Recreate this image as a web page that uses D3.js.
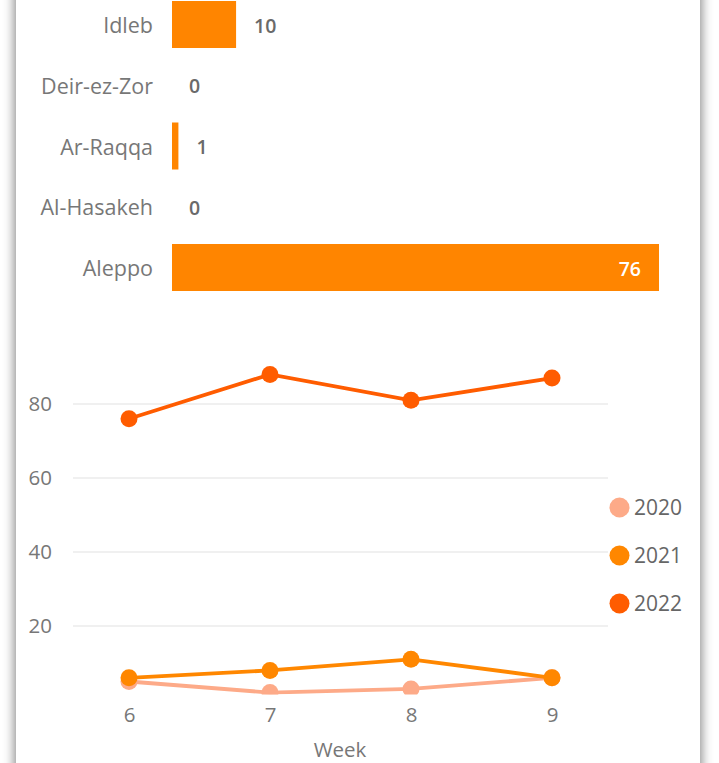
<!DOCTYPE html>
<html>
<head>
<meta charset="utf-8">
<script src="https://cdn.jsdelivr.net/npm/d3@7"></script>
<style>
  html, body { margin: 0; padding: 0; background: #fff; overflow: hidden; }
  #card { position: absolute; left: 16px; top: -20px; width: 684px; height: 820px; background: #fff;
          box-shadow: 0 0 10px 2px rgba(0,0,0,0.45); }
  svg { position: absolute; left: 0; top: 0; }
  text { font-family: "Open Sans", "Noto Sans", sans-serif; }
</style>
</head>
<body>
<div id="card"></div>
<svg id="chart" width="719" height="763"></svg>
<script>
// ---- Bar chart data ----
const regions = ["Idleb", "Deir-ez-Zor", "Ar-Raqqa", "Al-Hasakeh", "Aleppo"];
const regionValues = [10, 0, 1, 0, 76];

// ---- Line chart data ----
const weeks = [6, 7, 8, 9];
const years = ["2020", "2021", "2022"];
const values2020 = [5, 2, 3, 6];
const values2021 = [6, 8, 11, 6];
const values2022 = [76, 88, 81, 87];
const yTicks = [20, 40, 60, 80];

const barColor = "#FF8500";
const yearColors = { "2020": "#FDAA88", "2021": "#FF8700", "2022": "#FF5C00" };
const labelFont = "'Open Sans', 'Noto Sans', sans-serif";

const svg = d3.select("#chart");

// ---------- Bar chart ----------
const bx = d3.scaleLinear().domain([0, 76]).range([172, 659]);
const by = d3.scaleBand().domain(regions).range([1, 291]).paddingInner(0.2263).paddingOuter(0);

const barG = svg.append("g");
regions.forEach((r, i) => {
  const v = regionValues[i];
  const y0 = by(r), h = by.bandwidth(), cy = y0 + h / 2;
  barG.append("text").attr("x", 153).attr("y", cy + 1).attr("dy", "0.35em")
    .attr("text-anchor", "end").attr("font-size", 21.5).attr("fill", "#777").text(r);
  if (v > 0) {
    barG.append("rect").attr("x", bx(0)).attr("y", y0).attr("width", bx(v) - bx(0)).attr("height", h)
      .attr("fill", barColor);
  }
  const inside = v >= 40;
  barG.append("text")
    .attr("x", inside ? bx(v) - 18 : bx(v) + (v > 0 ? 18 : 17))
    .attr("y", cy + 1).attr("dy", "0.36em")
    .attr("text-anchor", inside ? "end" : "start")
    .attr("font-size", 19.5).attr("font-weight", 600)
    .attr("fill", inside ? "#fff" : "#6a6a6a").text(v);
});

// ---------- Line chart ----------
const x = d3.scalePoint().domain(weeks).range([129, 552]);
const y = d3.scaleLinear().domain([0, 80]).range([700, 404]);

const lineG = svg.append("g");
// gridlines
lineG.selectAll("line.grid").data(yTicks).join("line")
  .attr("x1", 73).attr("x2", 608).attr("y1", d => y(d)).attr("y2", d => y(d))
  .attr("stroke", "#ebebeb").attr("stroke-width", 1.5);

// y axis
const yAxis = d3.axisLeft(y).tickValues(yTicks).tickSize(0).tickPadding(0);
const yg = lineG.append("g").attr("transform", "translate(52,0)").call(yAxis);
yg.select(".domain").remove();
yg.selectAll("text").attr("font-size", 20.5).attr("fill", "#777").attr("font-family", labelFont);

// x axis
const xAxis = d3.axisBottom(x).tickSize(0).tickPadding(0);
const xg = lineG.append("g").attr("transform", "translate(0,707)").call(xAxis);
xg.select(".domain").remove();
xg.selectAll("text").attr("font-size", 20.5).attr("fill", "#777").attr("font-family", labelFont);

lineG.append("text").attr("x", 340).attr("y", 750).attr("dy", "0.35em").attr("text-anchor", "middle")
  .attr("font-size", 20.5).attr("fill", "#777").text("Week");

// clip for plot area
svg.append("defs").append("clipPath").attr("id", "plotclip")
  .append("rect").attr("x", 60).attr("y", 330).attr("width", 560).attr("height", 364.5);

const series = [
  { year: "2020", vals: values2020 },
  { year: "2021", vals: values2021 },
  { year: "2022", vals: values2022 }
];
const line = d3.line().x(d => x(d.w)).y(d => y(d.v));
const plot = lineG.append("g").attr("clip-path", "url(#plotclip)");
series.forEach(s => {
  const pts = weeks.map((w, i) => ({ w, v: s.vals[i] }));
  plot.append("path").datum(pts).attr("d", line).attr("fill", "none")
    .attr("stroke", yearColors[s.year]).attr("stroke-width", 3.8);
  plot.selectAll(null).data(pts).join("circle")
    .attr("cx", d => x(d.w)).attr("cy", d => y(d.v)).attr("r", 8.5)
    .attr("fill", yearColors[s.year]);
});

// legend
const legend = lineG.append("g");
years.forEach((yr, i) => {
  const cy = 507.5 + i * 48;
  legend.append("circle").attr("cx", 619.5).attr("cy", cy).attr("r", 10).attr("fill", yearColors[yr]);
  legend.append("text").attr("x", 634).attr("y", cy).attr("dy", "0.36em")
    .attr("font-size", 21).attr("fill", "#666").text(yr);
});
</script>
</body>
</html>
